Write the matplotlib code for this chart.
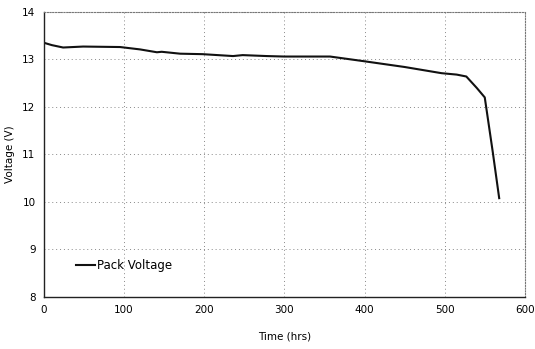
import matplotlib as mpl
mpl.use('Agg')
import matplotlib.pyplot as plt

# pack voltage
hours = [0, 10, 24, 49, 95, 120, 141, 147, 170, 198, 236, 248, 278, 300, 357,
         400, 450, 496, 515, 527, 540, 550, 560, 568]
volts = [13.35, 13.30, 13.25, 13.27, 13.26, 13.21, 13.15, 13.16, 13.12, 13.11, 13.07, 13.09, 13.07, 13.06, 13.06,
         12.96, 12.84, 12.71, 12.68, 12.64, 12.40, 12.20, 11.05, 10.08]

xticks = [0, 100, 200, 300, 400, 500, 600]
yticks = [8, 9, 10, 11, 12, 13, 14]

fig = plt.figure(figsize=(5.35, 3.49), dpi=100, facecolor='white')
ax = fig.add_axes([0.082, 0.149, 0.899, 0.817])

ax.plot(hours, volts, '-', color='#111111', lw=1.5, label='Pack Voltage')

ax.set_xlim(0, 600)
ax.set_ylim(8, 14)
ax.set_xticks(xticks)
ax.set_yticks(yticks)
ax.tick_params(length=0, labelsize=7.5, pad=6)
ax.grid(True, color='#888888', linestyle=(0, (1, 3)), lw=0.7)

for s in ['top', 'right']:
    ax.spines[s].set_linestyle((0, (1, 1.5)))
    ax.spines[s].set_color('#777777')
    ax.spines[s].set_linewidth(0.8)
for s in ['left', 'bottom']:
    ax.spines[s].set_color('#222222')
    ax.spines[s].set_linewidth(1.0)

ax.set_xlabel('Time (hrs)', fontsize=7.5, labelpad=12)
ax.set_ylabel('Voltage (V)', fontsize=7.5, labelpad=5)

ax.legend(loc='lower left', bbox_to_anchor=(0.045, 0.05), frameon=False,
          fontsize=8.5, handlelength=1.6, handletextpad=0.2)

fig.savefig('out.png', dpi=100, facecolor=fig.get_facecolor())
